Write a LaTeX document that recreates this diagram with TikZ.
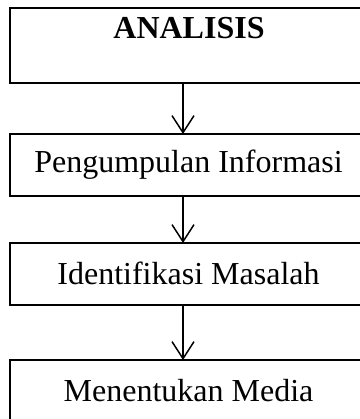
\documentclass[tikz,border=0pt]{standalone}
\usepackage{fontspec}
\setmainfont{Liberation Serif}
\usetikzlibrary{arrows.meta}
\begin{document}
\begin{tikzpicture}[x=1pt,y=1pt,
  boxstyle/.style={inner sep=0pt, minimum width=400pt, anchor=north west},
  edge3/.style={draw=black, line width=2pt},
  txt/.style={anchor=base, inner sep=0pt, font=\fontsize{32}{38}\selectfont},
  arr/.style={line width=1.5pt, -{Straight Barb[length=17pt,width=22pt,line width=1.5pt]}}]
\fill[white] (0,0) rectangle (359,-419);
\useasboundingbox (0,0) rectangle (359,-419);
\node[boxstyle, minimum height=75pt] (b1) at (10,-8) {};
\node[boxstyle, minimum height=62pt] (b2) at (10,-134) {};
\node[boxstyle, minimum height=62pt] (b3) at (10,-243) {};
\node[boxstyle, minimum height=70pt] (b4) at (10,-360) {};
\draw[edge3] (b1.north east) -- (b1.north west) -- (b1.south west) -- (b1.south east);
\draw[edge3] (b2.north east) -- (b2.north west) -- (b2.south west) -- (b2.south east);
\draw[edge3] (b3.north east) -- (b3.north west) -- (b3.south west) -- (b3.south east);
\draw[edge3] (b4.north east) -- (b4.north west) -- (b4.south west);
\node[txt, font=\fontsize{32}{38}\selectfont\bfseries] (t1) at (189,-39) {ANALISIS};
\node[txt] (t2) at (188.5,-173) {Pengumpulan Informasi};
\node[txt] (t3) at (188.5,-284) {Identifikasi Masalah};
\node[txt] (t4) at (188.5,-401) {Menentukan Media};
\coordinate (ax) at (183,0);
\draw[arr] (b1.south -| ax) -- (b2.north -| ax);
\draw[arr] (b2.south -| ax) -- (b3.north -| ax);
\draw[arr] (b3.south -| ax) -- (b4.north -| ax);
\end{tikzpicture}
\end{document}
